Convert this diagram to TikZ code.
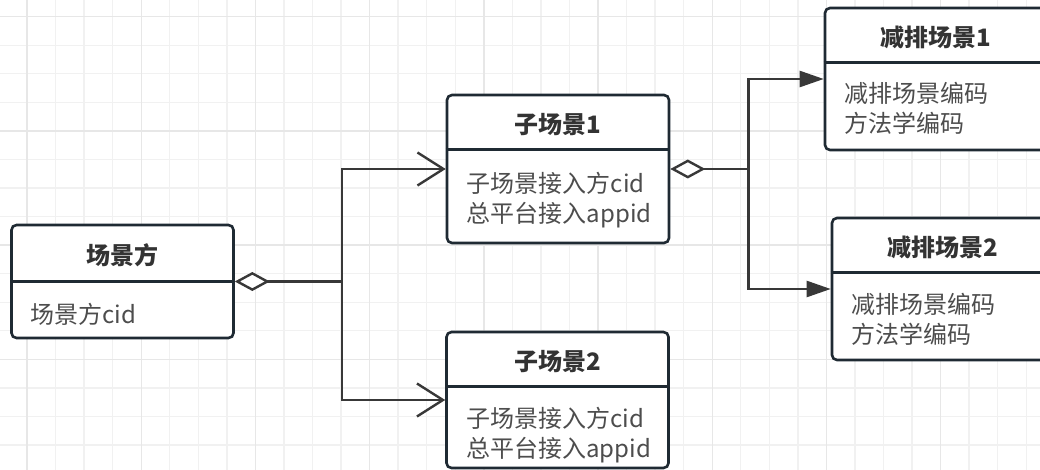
\documentclass[tikz,border=0pt]{standalone}
\usepackage{fontspec}
\setmainfont{Noto Sans CJK SC}
\usetikzlibrary{arrows.meta}
\definecolor{gridminor}{HTML}{F1F1F1}
\definecolor{gridmajor}{HTML}{E7E7E7}
\definecolor{boxline}{HTML}{1F2A33}
\definecolor{linegray}{HTML}{383838}
\definecolor{titlegray}{HTML}{333333}
\definecolor{bodygray}{HTML}{4D4D4D}

\begin{document}
\begin{tikzpicture}
[ x=1pt, y=-1pt
, font=\fontsize{24}{30}\selectfont
, minorline/.style={draw=gridminor, line width=1.4pt}
, majorline/.style={draw=gridmajor, line width=1.4pt}
, entity/.style={rectangle, draw=boxline, fill=white, line width=2.6pt, rounded corners=5pt, minimum width=222pt, inner sep=0pt}
, divider/.style={draw=boxline, line width=2.6pt}
, heading/.style={anchor=base, font=\fontsize{24}{30}\selectfont\bfseries, text=titlegray, inner sep=0pt}
, field/.style={anchor=north west, align=left, text=bodygray, inner sep=0pt}
, link/.style={draw=linegray, line width=2.4pt}
, aggr/.style={link, {Diamond[fill=white, length=35pt, width=19pt]}-}
, opento/.style={link, -{Straight Barb[length=26pt, width=33pt]}}
, blockto/.style={link, -{Triangle[length=24pt, width=16pt]}}
]
\useasboundingbox (0,0) rectangle (1040,470);
\fill[white] (0,0) rectangle (1040,470);
% grid
\foreach \i in {0,...,36} \draw[minorline] ({27+28.55*\i},0) -- ++(0,470);
\foreach \j in {0,...,16} \draw[minorline] (0,{16.7+28.55*\j}) -- ++(1040,0);
\foreach \i in {0,4,...,36} \draw[majorline] ({27+28.55*\i},0) -- ++(0,470);
\foreach \j in {0,4,...,16} \draw[majorline] (0,{16.7+28.55*\j}) -- ++(1040,0);

% entities
\node (e0) [entity, minimum height=113pt] at (122.5,281.5) {};
\node (s1) [entity, minimum height=148pt] at (558,169) {};
\node (s2) [entity, minimum height=136pt] at (557.5,400) {};
\node (r1) [entity, minimum height=142pt] at (936,79) {};
\node (r2) [entity, minimum height=142pt] at (943,289) {};

\draw[divider] ([yshift=-58pt]e0.north west) -- ([yshift=-58pt]e0.north east);
\draw[divider] ([yshift=-56pt]s1.north west) -- ([yshift=-56pt]s1.north east);
\draw[divider] ([yshift=-56pt]s2.north west) -- ([yshift=-56pt]s2.north east);
\draw[divider] ([yshift=-56pt]r1.north west) -- ([yshift=-56pt]r1.north east);
\draw[divider] ([yshift=-56pt]r2.north west) -- ([yshift=-56pt]r2.north east);

\node (e0t) [heading] at ([yshift=-41pt]e0.north) {场景方};
\node (s1t) [heading] at ([yshift=-40pt]s1.north) {子场景1};
\node (s2t) [heading] at ([yshift=-40pt]s2.north) {子场景2};
\node (r1t) [heading] at ([yshift=-40pt]r1.north) {减排场景1};
\node (r2t) [heading] at ([yshift=-40pt]r2.north) {减排场景2};

\node (e0f) [field] at ([xshift=20pt, yshift=-79pt]e0.north west) {场景方cid};
\node (s1f) [field] at ([xshift=21pt, yshift=-78pt]s1.north west) {子场景接入方cid\\总平台接入appid};
\node (s2f) [field] at ([xshift=21pt, yshift=-76pt]s2.north west) {子场景接入方cid\\总平台接入appid};
\node (r1f) [field] at ([xshift=21pt, yshift=-75pt]r1.north west) {减排场景编码\\方法学编码};
\node (r2f) [field] at ([xshift=21pt, yshift=-76pt]r2.north west) {减排场景编码\\方法学编码};

% connectors
\draw[aggr] (e0.east) -- ++(107,0) coordinate (j0);
\draw[opento] (j0) |- (s1.west);
\draw[opento] (j0) |- (s2.west);
\draw[aggr] (s1.east) -- ++(78,0) coordinate (j1);
\draw[blockto] (j1) |- (r1.west);
\draw[blockto] (j1) |- (r2.west);
\end{tikzpicture}
\end{document}
